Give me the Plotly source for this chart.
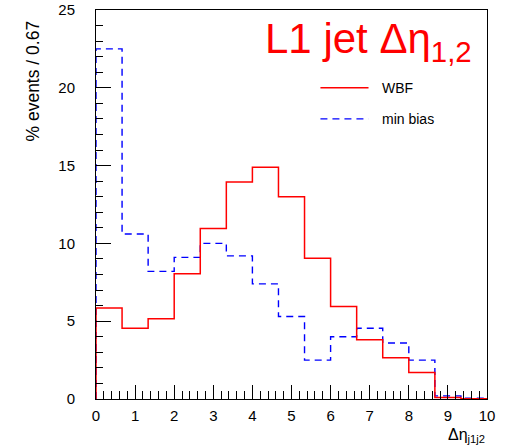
import plotly.graph_objects as go

# ---- data ----
bin_width = 10.0 / 15
edges = [round(i * bin_width, 4) for i in range(16)]
wbf = [5.85, 4.55, 5.15, 8.05, 10.95, 13.95, 14.9, 13.0, 9.05, 5.95, 3.8, 2.65, 1.7, 0.1, 0.02]
minbias = [22.5, 10.6, 8.2, 9.1, 10.0, 9.2, 7.4, 5.3, 2.5, 4.0, 4.55, 3.6, 2.5, 0.2, 0.05]
y_ticks = [0, 5, 10, 15, 20, 25]
x_ticks = list(range(0, 11))


def step_xy(vals):
    xs = [edges[0]] + edges
    ys = [0] + vals + [vals[-1]]
    return xs, ys


fig = go.Figure()
xs, ys = step_xy(minbias)
fig.add_trace(go.Scatter(x=xs, y=ys, mode="lines", line_shape="hv", name="min bias",
                         line=dict(color="#0000ff", width=1.4, dash="7px,5px"), showlegend=False))
xs, ys = step_xy(wbf)
fig.add_trace(go.Scatter(x=xs, y=ys, mode="lines", line_shape="hv", name="WBF",
                         line=dict(color="#ff0000", width=1.5), showlegend=False))

font_fam = "Liberation Sans, Arial, sans-serif"
axis_common = dict(showline=True, linecolor="black", linewidth=1, mirror=True,
                   ticks="inside", tickcolor="black", showgrid=False, zeroline=False,
                   automargin=False,
                   tickfont=dict(family=font_fam, size=15, color="black"))

fig.update_xaxes(range=[0, 10], tickvals=x_ticks, ticklen=14, tickwidth=1,
                 ticklabelstandoff=3,
                 minor=dict(dtick=0.2, ticklen=8, ticks="inside", tickcolor="black", tickwidth=1),
                 **axis_common)
fig.update_yaxes(range=[0, 25], tickvals=y_ticks, ticklen=15, tickwidth=1,
                 ticklabelstandoff=17,
                 minor=dict(dtick=1, ticklen=7, ticks="inside", tickcolor="black", tickwidth=1),
                 **axis_common)

annotations = [
    dict(text="L1 jet Δη<sub>1,2</sub>", x=0.428, y=0.993, xref="paper", yref="paper",
         xanchor="left", yanchor="top", showarrow=False,
         font=dict(family=font_fam, size=42, color="#ff0000")),
    dict(text="% events / 0.67", x=-0.16, y=0.978, xref="paper", yref="paper",
         xanchor="center", yanchor="top", textangle=-90, showarrow=False,
         font=dict(family=font_fam, size=17.5, color="black")),
    dict(text="Δη<sub>j1j2</sub>", x=1.0, y=-0.095, xref="paper", yref="paper",
         xanchor="right", yanchor="middle", showarrow=False,
         font=dict(family=font_fam, size=16, color="black")),
    dict(text="WBF", x=0.727, y=0.8, xref="paper", yref="paper",
         xanchor="left", yanchor="middle", showarrow=False,
         font=dict(family=font_fam, size=14, color="black")),
    dict(text="min bias", x=0.727, y=0.72, xref="paper", yref="paper",
         xanchor="left", yanchor="middle", showarrow=False,
         font=dict(family=font_fam, size=14, color="black")),
]

shapes = [
    dict(type="line", xref="paper", yref="paper", x0=0.574, x1=0.697, y0=0.8, y1=0.8,
         line=dict(color="#ff0000", width=1.5)),
    dict(type="line", xref="paper", yref="paper", x0=0.574, x1=0.697, y0=0.72, y1=0.72,
         line=dict(color="#0000ff", width=1.4, dash="7px,5px")),
]

fig.update_layout(width=506, height=448, margin=dict(l=95.5, r=19.3, t=9.5, b=49),
                  paper_bgcolor="white", plot_bgcolor="white",
                  annotations=annotations, shapes=shapes, showlegend=False)

fig.write_html("out.html")
